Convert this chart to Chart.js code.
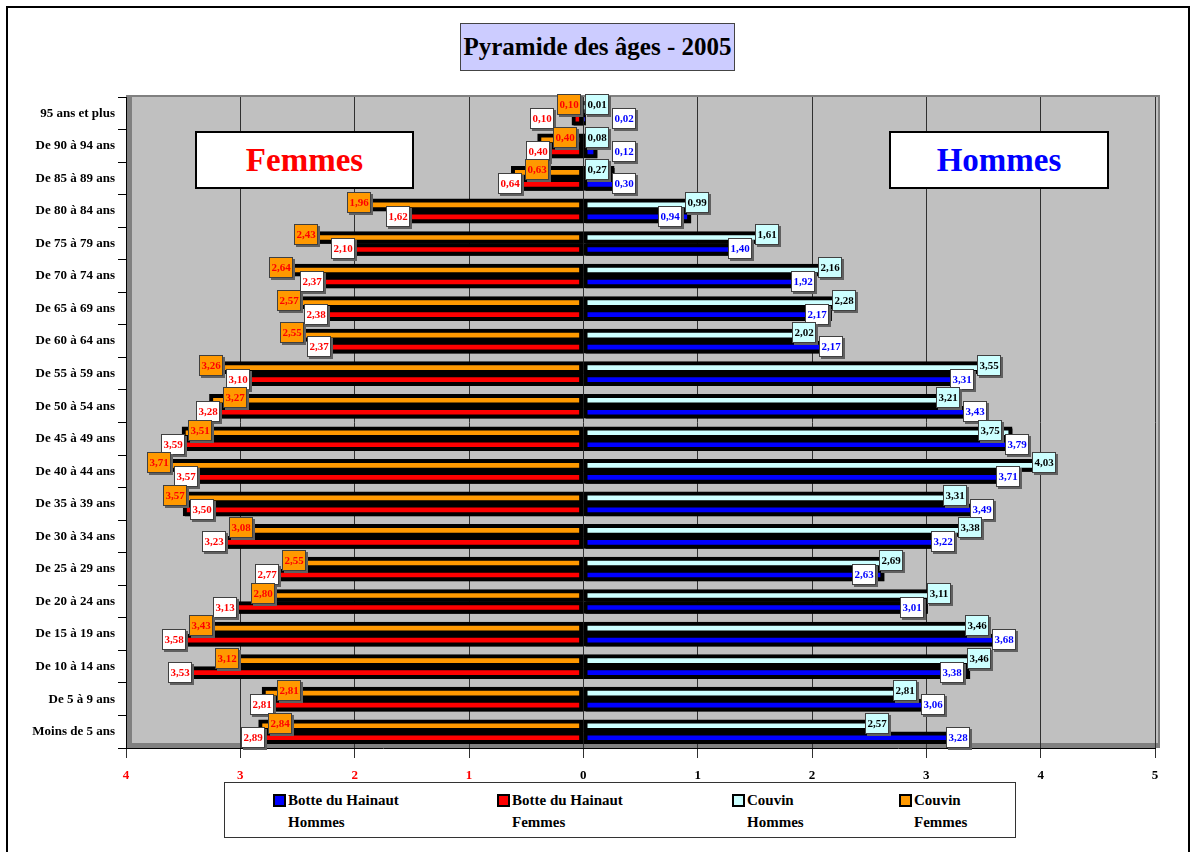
<!DOCTYPE html>
<html lang="fr">
<head>
<meta charset="utf-8">
<title>Pyramide des âges - 2005</title>
<script src="https://cdn.jsdelivr.net/npm/chart.js@4/dist/chart.umd.min.js"></script>
<style>
  html, body { margin: 0; padding: 0; background: #fff; }
  body { width: 1192px; height: 852px; position: relative; overflow: hidden;
         font-family: "Liberation Serif", "DejaVu Serif", serif; font-weight: bold; }
  #cadre { position: absolute; left: 6px; top: 6px; width: 1180px; height: 860px;
           border-left: 2px solid #000; border-top: 2px solid #000; border-right: 2px solid #000; }
  #chartPyramide { position: absolute; left: 0; top: 0; }
  .boite { position: absolute; box-sizing: border-box; display: flex; white-space: nowrap;
           align-items: center; justify-content: center; }
  #titre { left: 460px; top: 23px; width: 275px; height: 48px; background: #CCCCFF;
           border: 1px solid #444; font-size: 25px; color: #000; }
  #femmes, #hommes { top: 131px; height: 58px; background: #fff; border: 2px solid #000; font-size: 33px; }
  #femmes { left: 195px; width: 219px; color: #FF0000; }
  #hommes { left: 889px; width: 220px; color: #0000FF; }
  #legende { position: absolute; left: 224px; top: 782px; width: 792px; height: 56px;
             box-sizing: border-box; border: 1px solid #333; background: #fff; }
  .entree { position: absolute; top: 6px; font-size: 15px; line-height: 22px; color: #000; }
  .carre { position: absolute; left: -15px; top: 5px; width: 9px; height: 9px; border: 2px solid #000; }
</style>
</head>
<body>
<div id="cadre"></div>
<canvas id="chartPyramide" width="1192" height="852"></canvas>
<div id="titre" class="boite">Pyramide des âges - 2005</div>
<div id="femmes" class="boite">Femmes</div>
<div id="hommes" class="boite">Hommes</div>
<div id="legende"></div>

<script>
// Tranches d'âge, du haut vers le bas
const categories = [
  "95 ans et plus", "De 90 à 94 ans", "De 85 à 89 ans", "De 80 à 84 ans",
  "De 75 à 79 ans", "De 70 à 74 ans", "De 65 à 69 ans", "De 60 à 64 ans",
  "De 55 à 59 ans", "De 50 à 54 ans", "De 45 à 49 ans", "De 40 à 44 ans",
  "De 35 à 39 ans", "De 30 à 34 ans", "De 25 à 29 ans", "De 20 à 24 ans",
  "De 15 à 19 ans", "De 10 à 14 ans", "De 5 à 9 ans", "Moins de 5 ans"
];

// Pourcentages de la population
const botteHommes = [0.02, 0.12, 0.30, 0.94, 1.40, 1.92, 2.17, 2.17, 3.31, 3.43,
                     3.79, 3.71, 3.49, 3.22, 2.63, 3.01, 3.68, 3.38, 3.06, 3.28];
const botteFemmes = [0.10, 0.40, 0.64, 1.62, 2.10, 2.37, 2.38, 2.37, 3.10, 3.28,
                     3.59, 3.57, 3.50, 3.23, 2.77, 3.13, 3.58, 3.53, 2.81, 2.89];
const couvinHommes = [0.01, 0.08, 0.27, 0.99, 1.61, 2.16, 2.28, 2.02, 3.55, 3.21,
                      3.75, 4.03, 3.31, 3.38, 2.69, 3.11, 3.46, 3.46, 2.81, 2.57];
const couvinFemmes = [0.10, 0.40, 0.63, 1.96, 2.43, 2.64, 2.57, 2.55, 3.26, 3.27,
                      3.51, 3.71, 3.57, 3.08, 2.55, 2.80, 3.43, 3.12, 2.81, 2.84];

// Axe horizontal : de 4 (femmes) à 5 (hommes)
const axeMin = -4;
const axeMax = 5;

// Legende (ordre du graphique d'origine)
const legende = [
  { texte: ["Botte du Hainaut", "Hommes"], couleur: "#0000FF", x: 63 },
  { texte: ["Botte du Hainaut", "Femmes"], couleur: "#FF0000", x: 287 },
  { texte: ["Couvin", "Hommes"], couleur: "#CCFFFF", x: 522 },
  { texte: ["Couvin", "Femmes"], couleur: "#FF9900", x: 689 }
];

document.addEventListener("DOMContentLoaded", function () {
  const boiteLegende = document.getElementById("legende");
  legende.forEach(function (e) {
    const div = document.createElement("div");
    div.className = "entree";
    div.style.left = e.x + "px";
    div.innerHTML = '<span class="carre" style="background:' + e.couleur + '"></span>' +
      e.texte[0] + "<br>" + e.texte[1];
    boiteLegende.appendChild(div);
  });

  const negatif = (tab) => tab.map((v) => -v);
  const virgule = (v) => Math.abs(v).toFixed(2).replace(".", ",");

  // Fond gris en "3D" de la zone de tracé
  const fondGris = {
    id: "fondGris",
    beforeDraw(chart) {
      const { ctx, chartArea: a } = chart;
      ctx.save();
      ctx.fillStyle = "#808080";
      ctx.fillRect(a.left, a.top - 2, a.right - a.left + 5, a.bottom - a.top + 2);
      ctx.fillStyle = "#C0C0C0";
      ctx.fillRect(a.left + 6, a.top, a.right - a.left - 3, a.bottom - a.top - 5);
      ctx.restore();
    }
  };

  // Ombre noire sous les barres
  const ombreBarres = {
    id: "ombreBarres",
    beforeDatasetsDraw(chart) {
      const ctx = chart.ctx;
      ctx.save();
      ctx.shadowColor = "#000";
      ctx.shadowOffsetX = 2;
      ctx.shadowOffsetY = 2;
    },
    afterDatasetsDraw(chart) {
      chart.ctx.restore();
    }
  };

  // Etiquettes de valeurs dans des petites boites
  const LARG = 24, ECART = 27, MARGE = 14;
  function boite(ctx, x, y, fond, couleur, texte) {
    ctx.fillStyle = "#606060";
    ctx.fillRect(x - 10, y - 9, LARG, 21);
    ctx.fillStyle = fond;
    ctx.fillRect(x - 12, y - 11, LARG, 21);
    ctx.strokeStyle = "#404040";
    ctx.lineWidth = 1;
    ctx.strokeRect(x - 11.5, y - 10.5, LARG - 1, 20);
    ctx.fillStyle = couleur;
    ctx.fillText(texte, x, y);
  }

  const etiquettes = {
    id: "etiquettes",
    afterDatasetsDraw(chart) {
      const ctx = chart.ctx;
      const zero = chart.scales.x.getPixelForValue(0);
      const ds = chart.data.datasets;
      ctx.save();
      ctx.font = "bold 11px 'Liberation Serif'";
      ctx.textAlign = "center";
      ctx.textBaseline = "middle";
      // paires (couvin, botte) de chaque côté
      [[0, 2, 1], [1, 3, -1]].forEach(function ([ic, ib, sens]) {
        const mc = chart.getDatasetMeta(ic).data;
        const mb = chart.getDatasetMeta(ib).data;
        categories.forEach(function (_, j) {
          const limite = zero + sens * MARGE;
          let xc = sens * mc[j].x < sens * limite ? limite : mc[j].x;
          let xb = sens * mb[j].x < sens * limite ? limite : mb[j].x;
          if (Math.abs(xc - xb) < ECART) {
            // la plus petite valeur recule vers le centre
            const vc = Math.abs(ds[ic].data[j]);
            const vb = Math.abs(ds[ib].data[j]);
            if (vc <= vb) {
              xc = xb - sens * ECART;
              if (sens * xc < sens * limite) { xc = limite; xb = limite + sens * ECART; }
            } else {
              xb = xc - sens * ECART;
              if (sens * xb < sens * limite) { xb = limite; xc = limite + sens * ECART; }
            }
          }
          boite(ctx, Math.round(xc), Math.round(mc[j].y) - 2, ds[ic].fondEtiquette,
                ds[ic].texteEtiquette, virgule(ds[ic].data[j]));
          boite(ctx, Math.round(xb), Math.round(mb[j].y), ds[ib].fondEtiquette,
                ds[ib].texteEtiquette, virgule(ds[ib].data[j]));
        });
      });
      ctx.restore();
    }
  };

  const ctx = document.getElementById("chartPyramide").getContext("2d");
  new Chart(ctx, {
    type: "bar",
    data: {
      labels: categories,
      datasets: [
        {
          label: "Couvin Hommes",
          data: couvinHommes,
          stack: "couvin",
          backgroundColor: "#CCFFFF",
          fondEtiquette: "#CCFFFF",
          texteEtiquette: "#000000"
        },
        {
          label: "Couvin Femmes",
          data: negatif(couvinFemmes),
          stack: "couvin",
          backgroundColor: "#FF9900",
          fondEtiquette: "#FF9900",
          texteEtiquette: "#FF0000"
        },
        {
          label: "Botte du Hainaut Hommes",
          data: botteHommes,
          stack: "botte",
          backgroundColor: "#0000FF",
          fondEtiquette: "#FFFFFF",
          texteEtiquette: "#0000FF"
        },
        {
          label: "Botte du Hainaut Femmes",
          data: negatif(botteFemmes),
          stack: "botte",
          backgroundColor: "#FF0000",
          fondEtiquette: "#FFFFFF",
          texteEtiquette: "#FF0000"
        }
      ]
    },
    options: {
      indexAxis: "y",
      responsive: false,
      animation: false,
      layout: { padding: { top: 97, right: 37, bottom: 64, left: 0 } },
      datasets: {
        bar: {
          barThickness: 12,
          categoryPercentage: 0.8,
          borderColor: "#000",
          borderWidth: 4,
          borderSkipped: false
        }
      },
      scales: {
        x: {
          stacked: true,
          min: axeMin,
          max: axeMax,
          afterFit: (s) => { s.height = 40; },
          grid: { color: "#303030", lineWidth: 1, tickLength: 10 },
          border: { color: "#000" },
          ticks: {
            stepSize: 1,
            padding: 10,
            font: { family: "Liberation Serif", size: 13, weight: "bold" },
            color: (c) => (c.tick && c.tick.value < 0 ? "#FF0000" : "#000000"),
            callback: (v) => Math.abs(v)
          }
        },
        y: {
          stacked: true,
          afterFit: (s) => { s.width = 126; },
          grid: { drawOnChartArea: false, color: "#000", tickLength: 8 },
          border: { color: "#000" },
          ticks: {
            padding: 3,
            color: "#000",
            font: { family: "Liberation Serif", size: 13, weight: "bold" }
          }
        }
      },
      plugins: {
        legend: { display: false },
        title: { display: false },
        tooltip: { enabled: false }
      }
    },
    plugins: [fondGris, ombreBarres, etiquettes]
  });
});
</script>
</body>
</html>
